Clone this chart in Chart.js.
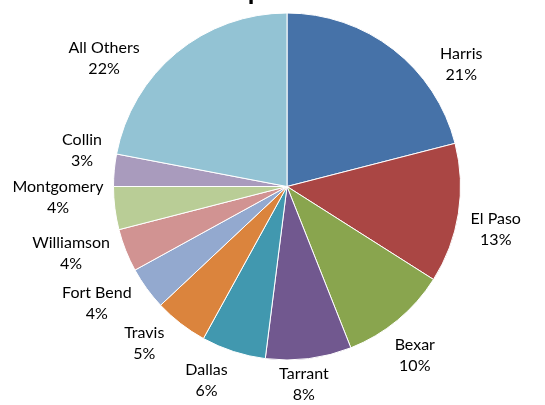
<!DOCTYPE html>
<html>
<head>
<meta charset="utf-8">
<script src="https://cdn.jsdelivr.net/npm/chart.js@4"></script>
<style>
  html, body { margin: 0; padding: 0; background: #fff; overflow: hidden; }
  #wrap { width: 545px; height: 405px; position: relative; }
</style>
</head>
<body>
<div id="wrap"><canvas id="countyPie" width="545" height="405"></canvas></div>
<script>
// Share of total by county
const counties = ['Harris', 'El Paso', 'Bexar', 'Tarrant', 'Dallas', 'Travis',
  'Fort Bend', 'Williamson', 'Montgomery', 'Collin', 'All Others'];
const shares = [21, 13, 10, 8, 6, 5, 4, 4, 4, 3, 22];
const sliceColors = ['#4672A8', '#AA4644', '#89A54E', '#71588F', '#4198AF', '#DB843D',
  '#93A9CF', '#D19392', '#B9CD96', '#A99BBD', '#93C3D4'];

const LABEL_FONT = '16px Lato, "Open Sans", sans-serif';
const DEG = Math.PI / 180;

// labels sit just outside each slice; the top cone is kept clear for the title
const outsideLabels = {
  id: 'outsideLabels',
  afterDatasetsDraw(chart) {
    const ctx = chart.ctx;
    const meta = chart.getDatasetMeta(0);
    const total = shares.reduce((a, b) => a + b, 0);
    ctx.save();
    ctx.font = LABEL_FONT;
    ctx.fillStyle = '#000';
    ctx.textAlign = 'center';
    ctx.textBaseline = 'middle';
    meta.data.forEach((arc, i) => {
      const p = arc.getProps(['x', 'y', 'startAngle', 'endAngle', 'outerRadius'], true);
      let a = (p.startAngle + p.endAngle) / 2 + Math.PI / 2; // clockwise from top
      a = ((a % (2 * Math.PI)) + 2 * Math.PI) % (2 * Math.PI);
      const cone = 55 * DEG;
      if (a < cone) a = cone;
      else if (a > 2 * Math.PI - cone) a = 2 * Math.PI - cone;
      else a += (a > Math.PI ? 4.5 : 2.5) * DEG;
      const lines = [counties[i], Math.round(shares[i] / total * 100) + '%'];
      const w = Math.max(...lines.map(t => ctx.measureText(t).width));
      const lh = 21;
      const h = lh * 2;
      const sx = Math.sin(a), cy = -Math.cos(a);
      const r = p.outerRadius + 14 + Math.abs(sx) * w * 0.45 + Math.abs(cy) * h * 0.4;
      const cx = p.x + sx * r;
      // keep the two lines inside the bottom edge
      const cyy = Math.min(p.y + cy * r, chart.height - 21);
      ctx.fillText(lines[0], cx, cyy - lh / 2);
      ctx.fillText(lines[1], cx, cyy + lh / 2);
    });
    // chart title, mostly above the visible area
    ctx.font = 'bold 27px Lato, "Open Sans", sans-serif';
    ctx.textBaseline = 'alphabetic';
    ctx.fillText('Top 10 Counties', 317, 0);
    ctx.restore();
  }
};

new Chart(document.getElementById('countyPie'), {
  type: 'pie',
  data: {
    labels: counties,
    datasets: [{
      data: shares,
      backgroundColor: sliceColors,
      borderColor: '#ffffff',
      borderWidth: 1
    }]
  },
  options: {
    responsive: false,
    animation: false,
    layout: { padding: { top: 12, bottom: 44, left: 113, right: 84 } },
    plugins: {
      legend: { display: false },
      tooltip: { enabled: false },
      title: { display: false }
    }
  },
  plugins: [outsideLabels]
});
</script>
</body>
</html>
